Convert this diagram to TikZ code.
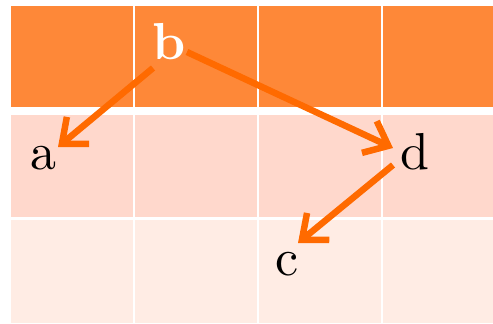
\documentclass[tikz,border=0pt]{standalone}
\usetikzlibrary{arrows.meta}
\definecolor{rowA}{RGB}{254,136,56}
\definecolor{rowB}{RGB}{255,216,204}
\definecolor{rowC}{RGB}{255,236,228}
\definecolor{arrowc}{RGB}{255,106,0}
\begin{document}
\begin{tikzpicture}[x=0.2pt,y=-0.2pt,
  lbl/.style={anchor=base,inner sep=0pt,font=\fontsize{10.4}{12}\selectfont},
  arr/.style={draw=arrowc,line width=1.3pt,-{Straight Barb[length=4.2pt,width=7pt]}}]
\useasboundingbox (0,0) rectangle (493,323);
% row 1
\fill[rowA] (11,6) rectangle (133,107);
\fill[rowA] (135,6) rectangle (256.5,107);
\fill[rowA] (258.5,6) rectangle (381,107);
\fill[rowA] (383,6) rectangle (493,107);
% row 2
\fill[rowB] (11,115) rectangle (133,217);
\fill[rowB] (135,115) rectangle (256.5,217);
\fill[rowB] (258.5,115) rectangle (381,217);
\fill[rowB] (383,115) rectangle (493,217);
% row 3
\fill[rowC] (11,220) rectangle (133,323);
\fill[rowC] (135,220) rectangle (256.5,323);
\fill[rowC] (258.5,220) rectangle (381,323);
\fill[rowC] (383,220) rectangle (493,323);
% labels
\node[lbl,text=white,font=\fontsize{10.4}{12}\selectfont\bfseries] (b) at (169,59) {b};
\node[lbl] (a) at (43.5,169) {a};
\node[lbl] (d) at (415,169) {d};
\node[lbl] (c) at (287.5,275) {c};
% arrows
\draw[arr] ([shift={(-16,9)}]b.base) -- ([shift={(14.5,-22)}]a.base);
\draw[arr] ([shift={(18,-7)}]b.base) -- ([shift={(-22,-21)}]d.base);
\draw[arr] ([shift={(-22,-4)}]d.base) -- ([shift={(10.5,-32)}]c.base);
\end{tikzpicture}
\end{document}
